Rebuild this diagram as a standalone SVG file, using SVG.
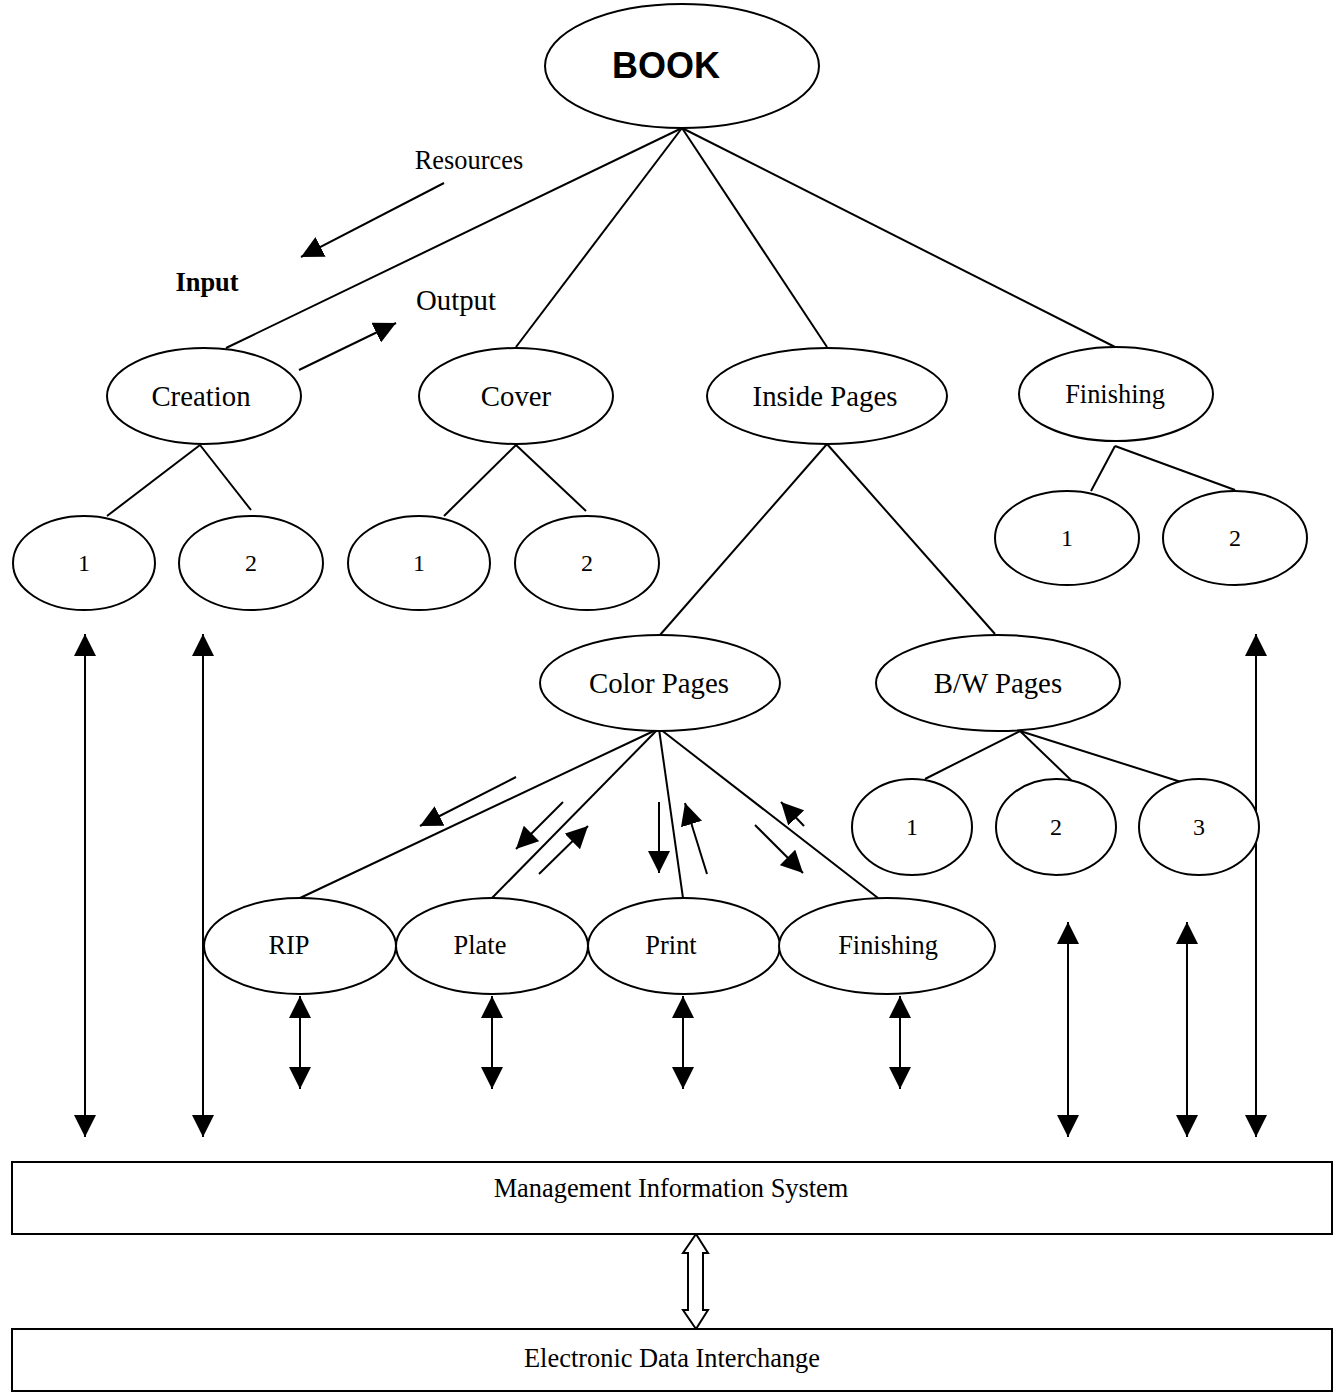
<svg xmlns="http://www.w3.org/2000/svg" width="1338" height="1397" viewBox="0 0 1338 1397">
<style>
.n ellipse{fill:#fff;stroke:#000;stroke-width:2}
.n rect{fill:#fff;stroke:#000;stroke-width:2}
text{font-family:"Liberation Serif","Times New Roman",serif;text-anchor:middle;fill:#000}
.l{font-size:28.8px}
.s{font-size:26.4px}
.d{font-size:24px}
.c line{stroke:#000;stroke-width:2}
.a{marker-end:url(#ah)}
.b{marker-start:url(#ah);marker-end:url(#ah)}
</style>
<defs>
<marker id="ah" markerUnits="userSpaceOnUse" markerWidth="22" markerHeight="22" refX="20" refY="10" orient="auto-start-reverse" viewBox="0 0 20 20">
<path d="M0,0 L20,10 L0,20 z" fill="#000"/>
</marker>
</defs>
<rect width="1338" height="1397" fill="#fff"/>
<g id="connectors" class="c">
<line x1="682" y1="128" x2="226" y2="348"/>
<line x1="682" y1="128" x2="516" y2="347"/>
<line x1="682" y1="128" x2="827" y2="347"/>
<line x1="682" y1="128" x2="1115" y2="347"/>
<line x1="200" y1="445" x2="107" y2="516"/>
<line x1="200" y1="445" x2="251" y2="510"/>
<line x1="516" y1="445" x2="444" y2="516"/>
<line x1="516" y1="445" x2="586" y2="511"/>
<line x1="827" y1="444" x2="660" y2="635"/>
<line x1="827" y1="444" x2="995" y2="634"/>
<line x1="1115" y1="446" x2="1091" y2="491"/>
<line x1="1115" y1="446" x2="1235" y2="490"/>
<line x1="1020" y1="731" x2="925" y2="779"/>
<line x1="1020" y1="731" x2="1072" y2="781"/>
<line x1="1020" y1="731" x2="1200" y2="788"/>
<line x1="658" y1="729" x2="300" y2="898"/>
<line x1="658" y1="729" x2="492" y2="898"/>
<line x1="659" y1="729" x2="683" y2="898"/>
<line x1="660" y1="729" x2="878" y2="898"/>
<line class="a" x1="444" y1="183" x2="301" y2="257"/>
<line class="a" x1="299" y1="370" x2="396" y2="323"/>
<line class="a" x1="516" y1="777" x2="420" y2="826"/>
<line class="a" x1="563" y1="802" x2="516" y2="849"/>
<line class="a" x1="539" y1="874" x2="588" y2="826"/>
<line class="a" x1="659" y1="802" x2="659" y2="873"/>
<line class="a" x1="707" y1="874" x2="685" y2="803"/>
<line class="a" x1="755" y1="825" x2="803" y2="873"/>
<line class="a" x1="804" y1="826" x2="781" y2="802"/>
<line class="b" x1="85" y1="634" x2="85" y2="1137"/>
<line class="b" x1="203" y1="634" x2="203" y2="1137"/>
<line class="b" x1="1068" y1="922" x2="1068" y2="1137"/>
<line class="b" x1="1187" y1="922" x2="1187" y2="1137"/>
<line class="b" x1="1256" y1="634" x2="1256" y2="1137"/>
<line class="b" x1="300" y1="996" x2="300" y2="1089"/>
<line class="b" x1="492" y1="996" x2="492" y2="1089"/>
<line class="b" x1="683" y1="996" x2="683" y2="1089"/>
<line class="b" x1="900" y1="996" x2="900" y2="1089"/>
<polygon points="696,1234 708,1253 703,1253 703,1310 708,1310 696,1329 683,1310 688,1310 688,1253 683,1253" fill="#fff" stroke="#000" stroke-width="2"/>
</g>
<g id="labels">
<text class="s" x="469" y="169">Resources</text>
<text class="s" x="207" y="291" font-weight="bold">Input</text>
<text class="l" x="456" y="310">Output</text>
</g>
<g id="book" class="n"><ellipse cx="682" cy="66" rx="137" ry="62"/><text x="666" y="78" style="font-family:'Liberation Sans',Arial,sans-serif;font-size:36px;font-weight:bold">BOOK</text></g>
<g id="creation" class="n"><ellipse cx="204" cy="396" rx="97" ry="48"/><text class="l" x="201" y="406">Creation</text></g>
<g id="cover" class="n"><ellipse cx="516" cy="396" rx="97" ry="48"/><text class="l" x="516" y="406">Cover</text></g>
<g id="inside-pages" class="n"><ellipse cx="827" cy="396" rx="120" ry="48"/><text class="l" x="825" y="406">Inside Pages</text></g>
<g id="finishing-top" class="n"><ellipse cx="1116" cy="394" rx="97" ry="47"/><text class="s" x="1115" y="403">Finishing</text></g>
<g id="creation-1" class="n"><ellipse cx="84" cy="563" rx="71" ry="47"/><text class="d" x="84" y="571">1</text></g>
<g id="creation-2" class="n"><ellipse cx="251" cy="563" rx="72" ry="47"/><text class="d" x="251" y="571">2</text></g>
<g id="cover-1" class="n"><ellipse cx="419" cy="563" rx="71" ry="47"/><text class="d" x="419" y="571">1</text></g>
<g id="cover-2" class="n"><ellipse cx="587" cy="563" rx="72" ry="47"/><text class="d" x="587" y="571">2</text></g>
<g id="finishing-1" class="n"><ellipse cx="1067" cy="538" rx="72" ry="47"/><text class="d" x="1067" y="546">1</text></g>
<g id="finishing-2" class="n"><ellipse cx="1235" cy="538" rx="72" ry="47"/><text class="d" x="1235" y="546">2</text></g>
<g id="color-pages" class="n"><ellipse cx="660" cy="683" rx="120" ry="48"/><text class="l" x="659" y="693">Color Pages</text></g>
<g id="bw-pages" class="n"><ellipse cx="998" cy="683" rx="122" ry="48"/><text class="l" x="998" y="693">B/W Pages</text></g>
<g id="bw-1" class="n"><ellipse cx="912" cy="827" rx="60" ry="48"/><text class="d" x="912" y="835">1</text></g>
<g id="bw-2" class="n"><ellipse cx="1056" cy="827" rx="60" ry="48"/><text class="d" x="1056" y="835">2</text></g>
<g id="bw-3" class="n"><ellipse cx="1199" cy="827" rx="60" ry="48"/><text class="d" x="1199" y="835">3</text></g>
<g id="rip" class="n"><ellipse cx="300" cy="946" rx="96" ry="48"/><text class="s" x="289" y="954">RIP</text></g>
<g id="plate" class="n"><ellipse cx="492" cy="946" rx="96" ry="48"/><text class="s" x="480" y="954">Plate</text></g>
<g id="print" class="n"><ellipse cx="684" cy="946" rx="96" ry="48"/><text class="s" x="671" y="954">Print</text></g>
<g id="finishing-color" class="n"><ellipse cx="887" cy="946" rx="108" ry="48"/><text class="s" x="888" y="954">Finishing</text></g>
<g id="mis" class="n"><rect x="12" y="1162" width="1320" height="72"/><text class="s" x="671" y="1197">Management Information System</text></g>
<g id="edi" class="n"><rect x="12" y="1329" width="1320" height="62"/><text class="s" x="672" y="1367">Electronic Data Interchange</text></g>
</svg>
